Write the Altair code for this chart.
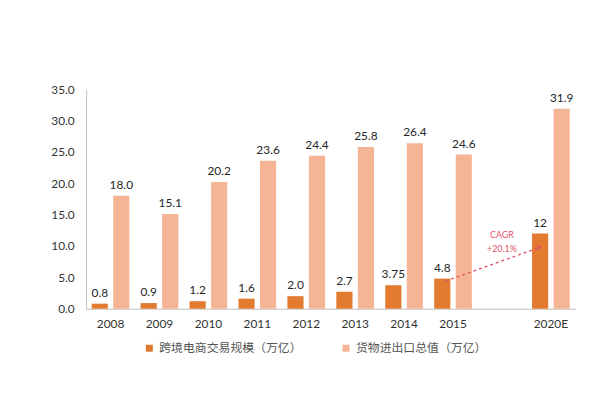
import altair as alt
import pandas as pd

years = ["2008", "2009", "2010", "2011", "2012", "2013", "2014", "2015", "2020E"]
ecommerce = [0.8, 0.9, 1.2, 1.6, 2.0, 2.7, 3.75, 4.8, 12]
ecommerce_labels = ["0.8", "0.9", "1.2", "1.6", "2.0", "2.7", "3.75", "4.8", "12"]
trade = [18.0, 15.1, 20.2, 23.6, 24.4, 25.8, 26.4, 24.6, 31.9]
trade_labels = ["18.0", "15.1", "20.2", "23.6", "24.4", "25.8", "26.4", "24.6", "31.9"]
series_names = ["跨境电商交易规模（万亿）", "货物进出口总值（万亿）"]
series_colors = ["#E27B2F", "#F5B595"]
x_domain = years[:8] + [" "] + years[8:]
y_ticks = [0, 5, 10, 15, 20, 25, 30, 35]

# annotation values
cagr_text = ["CAGR", "+20.1%"]
cagr_y = [11.8, 9.5]
arrow_from = ("2015", 4.4)
arrow_to = ("2020E", 9.8)

rows = []
for i, yr in enumerate(years):
    rows.append({"year": yr, "series": series_names[0], "value": ecommerce[i], "label": ecommerce_labels[i]})
    rows.append({"year": yr, "series": series_names[1], "value": trade[i], "label": trade_labels[i]})
df = pd.DataFrame(rows)

FONT = "Lato"

x_scale = alt.Scale(domain=x_domain, paddingInner=0.23, paddingOuter=0.115)
x_axis = alt.Axis(title=None, labelAngle=0, ticks=False, domainColor="#BFBFBF",
                  labelFontSize=12, labelColor="#333333", labelFont=FONT, labelPadding=10)
y_scale = alt.Scale(domain=[0, 35], nice=False)
y_axis = alt.Axis(title=None, values=y_ticks, format=".1f", grid=False, ticks=False,
                  labelOverlap=False, labelFlush=False,
                  domainColor="#BFBFBF", labelFontSize=12, labelColor="#333333",
                  labelFont=FONT, labelPadding=12)
xoff = alt.XOffset("series:N", sort=series_names,
                   scale=alt.Scale(domain=series_names, paddingInner=0.25))

bars = alt.Chart(df).mark_bar().encode(
    x=alt.X("year:N", scale=x_scale, axis=x_axis, title=None),
    xOffset=xoff,
    y=alt.Y("value:Q", scale=y_scale, axis=y_axis, title=None),
    color=alt.Color(
        "series:N",
        sort=series_names,
        scale=alt.Scale(domain=series_names, range=series_colors),
        legend=alt.Legend(title=None, orient="none", direction="horizontal",
                          legendX=58, legendY=256, symbolType="square", symbolSize=50,
                          symbolStrokeWidth=0, labelFontSize=12, labelColor="#555555",
                          labelFont="Noto Sans CJK SC", columnPadding=38, labelLimit=300),
    ),
)

labels = alt.Chart(df).mark_text(baseline="bottom", dy=-4, fontSize=12, font=FONT, color="#262626").encode(
    x=alt.X("year:N", scale=x_scale, axis=x_axis, title=None),
    xOffset=xoff,
    y=alt.Y("value:Q", scale=y_scale, axis=y_axis, title=None),
    text="label:N",
)

ann_df = pd.DataFrame({"year": [" ", " "], "value": cagr_y, "t": cagr_text})
ann = alt.Chart(ann_df).mark_text(fontSize=9, color="#E0556A", font=FONT).encode(
    x=alt.X("year:N", scale=x_scale, axis=x_axis, title=None),
    y=alt.Y("value:Q", scale=y_scale, axis=y_axis, title=None),
    text="t:N",
)

arrow_df = pd.DataFrame({"year": [arrow_from[0]], "value": [arrow_from[1]],
                         "year2": [arrow_to[0]], "value2": [arrow_to[1]]})
arrow = alt.Chart(arrow_df).mark_rule(color="#E0556A", strokeDash=[3, 3], strokeWidth=1.3).encode(
    x=alt.X("year:N", bandPosition=0.3, scale=x_scale, axis=x_axis, title=None),
    x2=alt.X2("year2:N", bandPosition=0.21),
    y=alt.Y("value:Q", scale=y_scale, axis=y_axis, title=None),
    y2=alt.Y2("value2:Q"),
)
head = alt.Chart(arrow_df).mark_point(shape="triangle-up", filled=True, size=28,
                                     color="#E0556A", angle=69, opacity=1).encode(
    x=alt.X("year2:N", bandPosition=0.21, scale=x_scale, axis=x_axis, title=None),
    y=alt.Y("value2:Q", scale=y_scale, axis=y_axis, title=None),
)

chart = alt.layer(bars, labels, ann, arrow, head).properties(
    width=495, height=222,
    autosize=alt.AutoSizeParams(type="none"),
    padding={"left": 79, "top": 80, "right": 30, "bottom": 80},
).configure_view(stroke=None)

chart.save("out.html", embed_options={"renderer": "svg", "actions": False})
